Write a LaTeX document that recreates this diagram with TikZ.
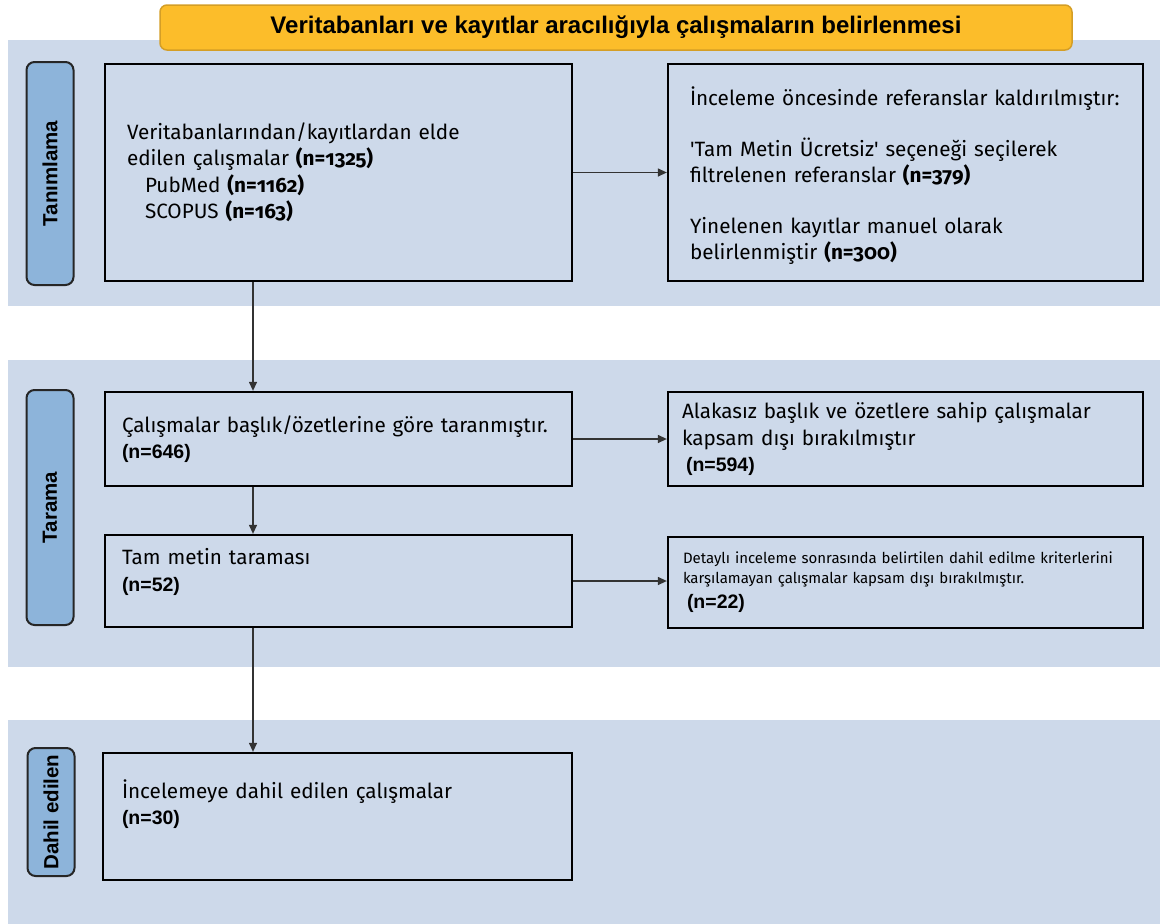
\documentclass[tikz,border=0pt]{standalone}
\usepackage{fontspec}
\setmainfont{Fira Sans}[Numbers=OldStyle, WordSpace=0.85]
\newfontfamily\arialfont{Liberation Sans}
\usetikzlibrary{arrows.meta,positioning}

\definecolor{bandblue}{RGB}{205,217,234}
\definecolor{tabblue}{RGB}{141,180,218}
\definecolor{bannerorange}{RGB}{252,189,42}
\definecolor{bannerline}{RGB}{212,158,38}

\newcommand\bodytext{\fontsize{20.7pt}{26.5pt}\selectfont}
\newcommand\smalltext{\fontsize{15pt}{20pt}\selectfont}
\newcommand\nbold{\arialfont\bfseries\fontsize{19.5pt}{26pt}\selectfont}

\tikzset{
  band/.style={rectangle, fill=bandblue, draw=none, minimum width=1152, inner sep=0pt},
  tab/.style={rectangle, rounded corners=8pt, draw=black!85, line width=2pt,
              fill=tabblue, rotate=90, minimum height=47, inner sep=0pt,
              font=\arialfont\bfseries\fontsize{20.5pt}{22pt}\selectfont},
  box/.style={rectangle, draw=black, line width=2.3pt, align=left,
              inner ysep=0pt, font=\bodytext},
  banner/.style={rectangle, rounded corners=7pt, draw=bannerline, line width=1.5pt,
                 fill=bannerorange, minimum width=912, minimum height=45,
                 font=\arialfont\bfseries\fontsize{24pt}{26pt}\selectfont},
  arr/.style={-{Triangle[length=9pt,width=8pt]}, line width=1.3pt, draw=black!80}
}

\begin{document}
\begin{tikzpicture}[x=1pt, y=-1pt]
  \useasboundingbox (0,0) rectangle (1160,924);

  % bands
  \node[band, minimum height=266] (b1) at (584,173) {};
  \node[band, minimum height=307] (b2) at (584,513.5) {};
  \node[band, minimum height=206] (b3) at (584,823) {};

  % title
  \node[banner] (title) at (616,27.5) {Veritabanları ve kayıtlar aracılığıyla çalışmaların belirlenmesi};

  % side tabs
  \node[tab, minimum width=223] (t1) at (50,173.5) {Tanımlama};
  \node[tab, minimum width=235] (t2) at (50,507.5) {Tarama};
  \node[tab, minimum width=128] (t3) at (51,812) {Dahil edilen};

  % Tanimlama
  \node[box, minimum height=217, text width=423, inner xsep=22] (A) at (338.5,172.5)
    {Veritabanlarından/kayıtlardan elde\\
     edilen çalışmalar \textbf{(n=1325)}\\
     \hspace*{18pt}PubMed \textbf{(n=1162)}\\
     \hspace*{18pt}SCOPUS \textbf{(n=163)}};
  \node[box, minimum height=217, text width=437, inner xsep=19] (B) at (905.5,172.5)
    {\rule{0pt}{25pt}\hspace*{3pt}İnceleme öncesinde referanslar kaldırılmıştır:\\[24pt]
     \hspace*{3pt}\textquotesingle Tam Metin Ücretsiz\textquotesingle\ seçeneği seçilerek\\
     \hspace*{3pt}filtrelenen referanslar \textbf{(n=379)}\\[24pt]
     \hspace*{3pt}Yinelenen kayıtlar manuel olarak\\
     \hspace*{3pt}belirlenmiştir \textbf{(n=300)}};

  % Tarama
  \node[box, minimum height=94, text width=433, inner xsep=17] (C) at (338.5,439)
    {Çalışmalar başlık/özetlerine göre taranmıştır.\\
     {\nbold (n=646)}};
  \node[box, minimum height=94, text width=447, inner xsep=14] (D) at (905.5,439)
    {Alakasız başlık ve özetlere sahip çalışmalar\\
     kapsam dışı bırakılmıştır\\
     {\nbold\hspace*{4pt}(n=594)}};
  \node[box, minimum height=92, text width=433, inner xsep=17] (E) at (338.5,581)
    {Tam metin taraması\\
     {\nbold (n=52)}\\[-4pt]\mbox{}};
  \node[box, minimum height=91, text width=445, inner xsep=15, font=\smalltext] (F) at (905.5,582.5)
    {Detaylı inceleme sonrasında belirtilen dahil edilme kriterlerini\\
     karşılamayan çalışmalar kapsam dışı bırakılmıştır.\\[5pt]
     {\nbold\hspace*{4pt}(n=22)}};

  % Dahil edilen
  \node[box, minimum height=127, text width=431, inner xsep=19] (G) at (337.5,816.5)
    {İncelemeye dahil edilen çalışmalar\\
     {\nbold (n=30)}\\[2pt]\mbox{}};

  % connectors
  \coordinate (spine) at (253,0);
  \foreach \a/\b in {A/C, C/E, E/G}{
    \draw[arr] (\a.south -| spine) -- (\b.north -| spine);
  }
  \foreach \a/\b in {A/B, C/D, E/F}{
    \draw[arr] (\a.east) -- (\b.west |- \a.east);
  }
\end{tikzpicture}
\end{document}
